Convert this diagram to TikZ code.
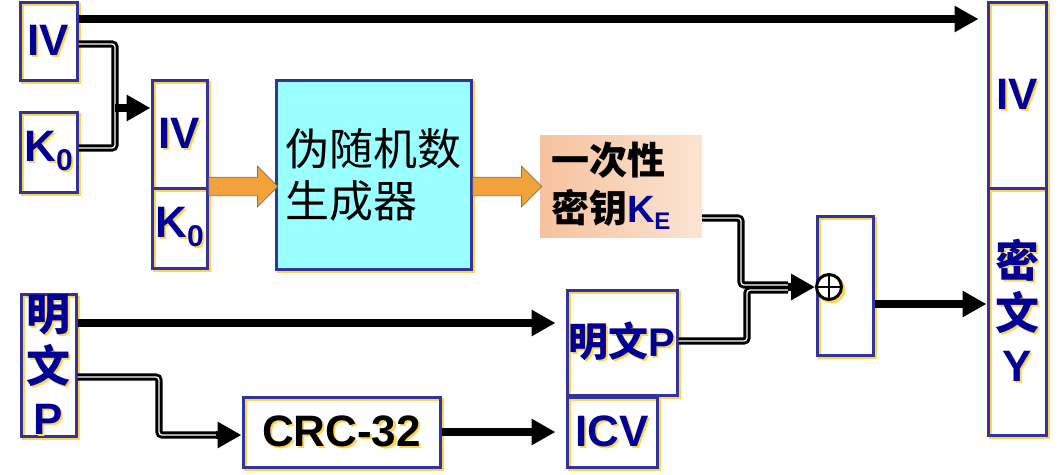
\documentclass[tikz,border=0pt]{standalone}
\usepackage{fontspec}
\setmainfont{Liberation Sans}
\newfontfamily\cjk{Noto Sans CJK SC}
\usepackage{tikz}
\usetikzlibrary{calc,positioning,arrows.meta,shapes.arrows}

\definecolor{boxblue}{RGB}{51,51,153}
\definecolor{txtblue}{RGB}{0,0,150}
\definecolor{shyellow}{RGB}{255,212,85}
\definecolor{prngcyan}{RGB}{153,255,255}
\definecolor{keydark}{RGB}{246,194,158}
\definecolor{keylight}{RGB}{251,228,210}
\definecolor{arrorange}{RGB}{242,162,58}

\newcommand\shd[1]{\makebox[0pt][l]{\kern2pt\raisebox{-2pt}{\color{shyellow}#1}}#1}
\newcommand\zh[1]{{\cjk #1}}

\begin{document}
\begin{tikzpicture}[x=1pt,y=-1pt,
	box/.style={draw=boxblue, line width=3pt, inner sep=0pt, text=txtblue, align=center,
		font=\fontsize{44}{52}\selectfont\bfseries,
		preaction={draw=shyellow, line width=2.5pt, transform canvas={shift={(2.5pt,-2.5pt)}}}},
	arr/.style={line width=7.5pt, -{Triangle[length=24pt,width=25pt]}},
	dbl/.style={draw=black, double=white, double distance=1.3pt, line width=2.9pt, rounded corners=3pt},
	fat/.style={single arrow, draw=black!55, fill=arrorange, line width=0.7pt, inner xsep=0pt,
		inner ysep=9pt, single arrow head extend=11pt, minimum height=69pt, anchor=tail}]
	\useasboundingbox (0,0) rectangle (1062,474);

	\node[box, minimum width=57pt, minimum height=78pt] (ivA) at (48.5,41) {\shd{IV}};
	\node[box, minimum width=57pt, minimum height=80pt] (kA) at (48.5,152) {\shd{K\raisebox{-9pt}{\fontsize{30}{30}\selectfont 0}}};
	\node[box, minimum width=55pt, minimum height=108pt] (ivB) at (179.5,134) {\shd{IV}};
	\node[box, minimum width=55pt, minimum height=80pt] (kB) at (179.5,228) {\shd{K\raisebox{-9pt}{\fontsize{30}{30}\selectfont 0}}};
	\node[box, fill=prngcyan, text=black, align=left, minimum width=195pt, minimum height=189pt,
		font=\fontsize{44}{52}\selectfont\mdseries] (prng) at (373.5,174.5) {\zh{伪随机数}\\\zh{生成器}};
	\node[left color=keydark, right color=keylight, align=left, text width=140pt, inner xsep=11pt,
		minimum width=162pt, minimum height=102pt, font=\fontsize{38}{48}\selectfont\bfseries] (key) at (621,186)
		{\zh{一次性}\\\zh{密钥}\textcolor{txtblue}{K\raisebox{-7pt}{\fontsize{24}{24}\selectfont E}}};

	\node[box, minimum width=56pt, minimum height=139pt] (xor) at (845,285.5) {};
	\node[circle, draw=black, fill=white, line width=3pt, minimum size=25pt, inner sep=0pt,
		preaction={draw=shyellow, line width=3pt, transform canvas={shift={(2.5pt,-2.5pt)}}},
		path picture={\draw[line width=2.5pt] (path picture bounding box.north) -- (path picture bounding box.south)
			(path picture bounding box.west) -- (path picture bounding box.east);}] (xo) at (829,287) {};

	\node[box, minimum width=58pt, minimum height=186pt] (ivC) at (1017,95) {\shd{IV}};
	\node[box, minimum width=58pt, minimum height=247pt] (yC) at (1017,311.5) {\shd{\zh{密}}\\\shd{\zh{文}}\\\shd{Y}};

	\node[box, minimum width=55pt, minimum height=141pt] (pA) at (48.5,365.5) {\shd{\zh{明}}\\\shd{\zh{文}}\\\shd{P}};
	\node[box, minimum width=110pt, minimum height=105pt, font=\fontsize{40}{48}\selectfont\bfseries] (pB) at (622,342.5) {\shd{\zh{明文}P}};
	\node[box, minimum width=197pt, minimum height=70pt, text=black] (crc) at (341.5,432) {\shd{CRC-32}};
	\node[box, minimum width=90pt, minimum height=70pt] (icv) at (612,432) {\shd{ICV}};

	\node[fat] (oa1) at (kB.north east) {};
	\node[fat] (oa2) at (prng.east |- kB.north) {};

	\coordinate (ivAout) at ([yshift=22pt]ivA.east);
	\draw[arr, shorten >=8pt] (ivAout) -- (ivAout -| ivC.west);

	\coordinate (j1) at (115,108);
	\draw[dbl] ([yshift=-3pt]ivA.east) -| (j1);
	\draw[dbl] ([yshift=4pt]kA.east) -| (j1);
	\draw[arr] (j1) -- (j1 -| ivB.west);

	\coordinate (keyout) at ([yshift=-32pt]key.east);
	\coordinate (pBout) at ([yshift=1.5pt]pB.east);
	\coordinate (j2) at (741,285);
	\coordinate (j3) at (747,290);
	\coordinate (j4) at (788,287);
	\draw[dbl] (keyout) -| (j2) -- (j2 -| j4);
	\draw[dbl] (pBout) -| (j3) -- (j3 -| j4);
	\draw[arr] (j4) -- (xo.west);

	\coordinate (xoout) at ([yshift=-18.5pt]xor.east);
	\draw[arr] (xoout) -- (xoout -| yC.west);

	\coordinate (pAout1) at ([yshift=42.5pt]pA.east);
	\draw[arr, shorten >=10pt] (pAout1) -- (pAout1 -| pB.west);

	\coordinate (pAout2) at ([yshift=-11.5pt]pA.east);
	\coordinate (j5) at (159,435);
	\coordinate (j6) at (216,435);
	\draw[dbl] (pAout2) -| (j5) -- (j6);
	\draw[arr] (j6) -- (j6 -| crc.west);

	\draw[arr, shorten >=10pt] (crc.east) -- (icv.west);
\end{tikzpicture}
\end{document}
